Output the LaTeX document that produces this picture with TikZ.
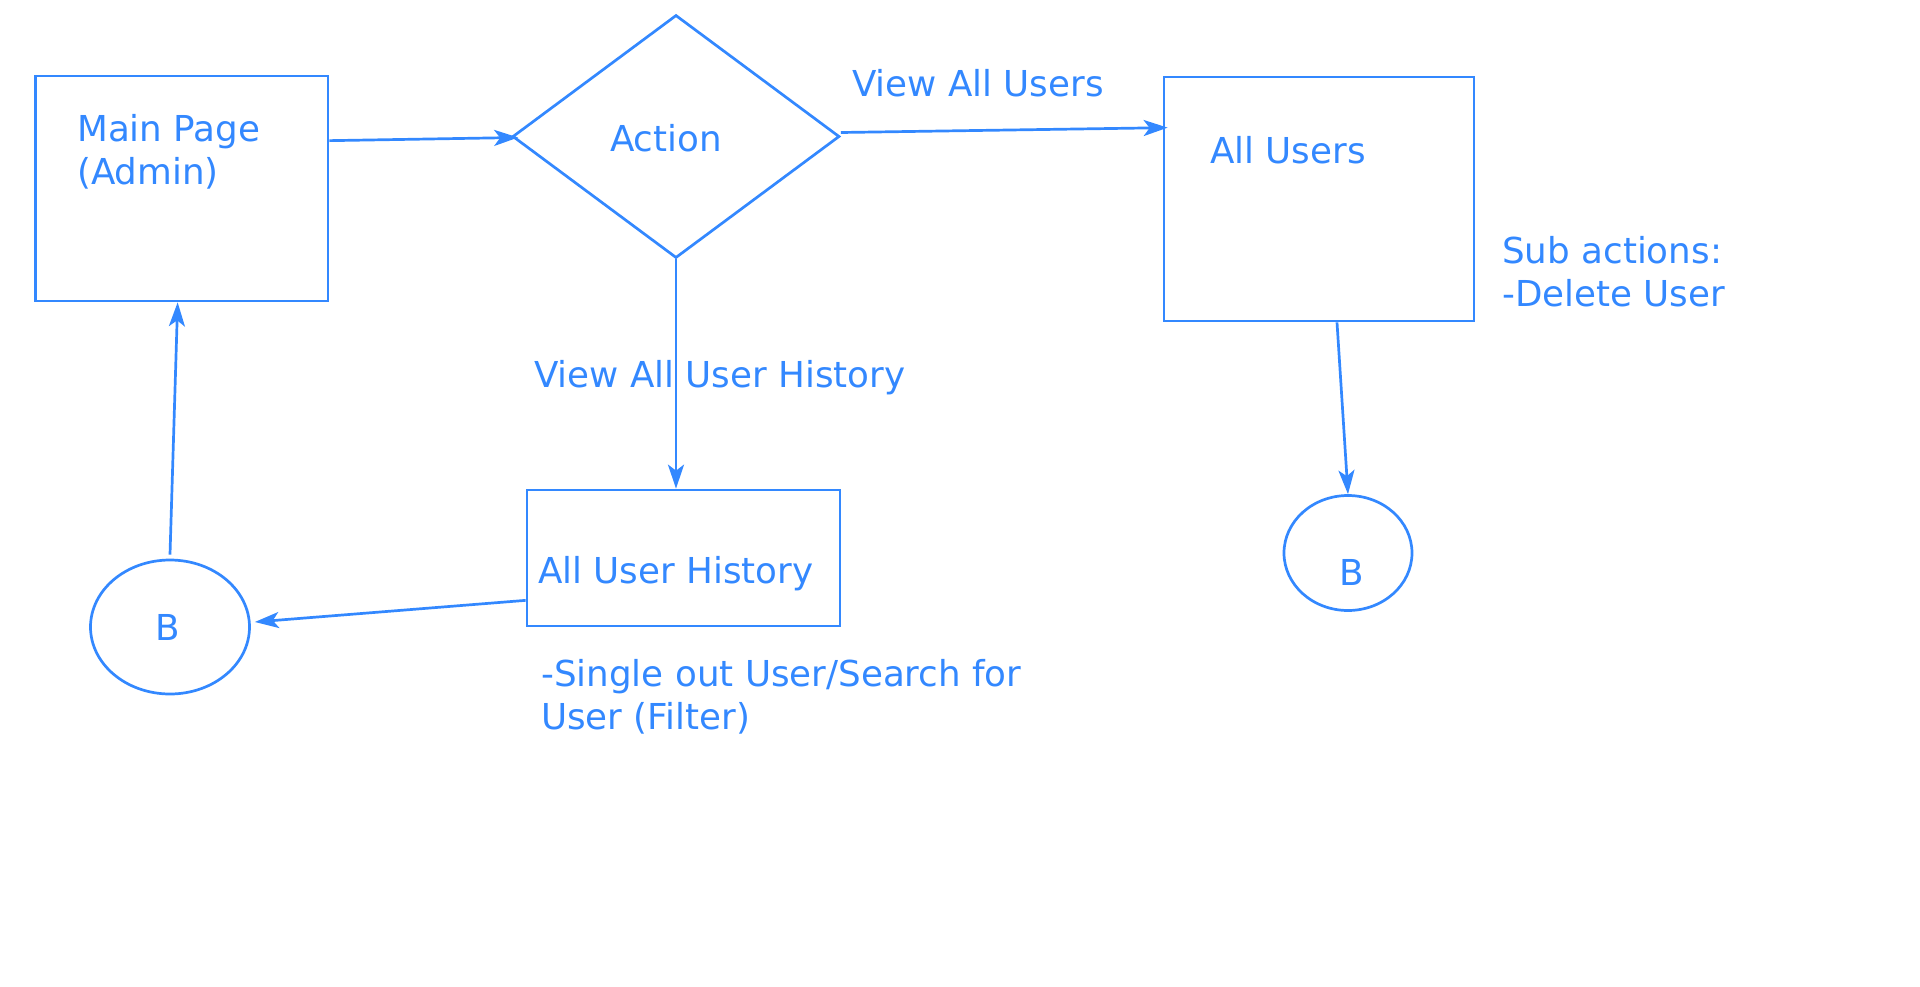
\documentclass[tikz,border=0pt]{standalone}
\usepackage{fontspec}
\setmainfont{DejaVu Sans}
\usetikzlibrary{shapes.geometric,arrows.meta,calc}
\definecolor{bl}{RGB}{51,136,255}
\begin{document}
\begin{tikzpicture}[x=1pt,y=-1pt,
  box/.style={draw=bl, rectangle, inner sep=0pt, line width=2.7pt},
  dia/.style={draw=bl, diamond, inner sep=0pt, line width=2.7pt},
  ell/.style={draw=bl, ellipse, inner sep=0pt, line width=2.7pt},
  lbl/.style={text=bl, font=\fontsize{35.7}{43}\selectfont, inner sep=0pt, anchor=base west, align=left},
  ctr/.style={text=bl, font=\fontsize{35.7}{43}\selectfont, inner sep=0pt, anchor=center},
  conn/.style={draw=bl, line width=2.7pt, -{Stealth[length=24pt,width=16pt,inset=6pt]}}]
\useasboundingbox (0,0) rectangle (1920,986);
% shapes
\node[box, minimum width=292.5pt, minimum height=225pt] (main) at (181.75,188.5) {};
\node[dia, minimum width=327pt, minimum height=243pt] (action) at (676,136.5) {};
\node[box, minimum width=310pt, minimum height=244pt] (users) at (1319,199) {};
\node[box, minimum width=313pt, minimum height=136pt] (hist) at (683.5,558) {};
\node[ell, minimum width=159pt, minimum height=134pt] (bL) at (170,627) {};
\node[ell, minimum width=128pt, minimum height=115pt] (bR) at (1348,553) {};
% texts
\node[lbl] (tmain) at (77,184) {Main Page\\(Admin)};
\node[ctr] (taction) at (666,138) {Action};
\node[lbl] (tvau) at (852,96) {View All Users};
\node[lbl] (tusers) at (1210,163) {All Users};
\node[lbl] (tsub) at (1502,306) {Sub actions:\\-Delete User};
\node[lbl] (tvauh) at (534,387) {View All User History};
\node[lbl] (thist) at (538,583) {All User History};
\node[lbl] (tsingle) at (541,729) {-Single out User/Search for\\User (Filter)};
\node[ctr] (tbL) at (168,627) {B};
\node[ctr] (tbR) at (1352,572) {B};
% connectors
\draw[conn] ($(main.north east)+(0,66)$) -- ($(action.west)+(7,1)$);
\draw[conn] ($(action.east)+(0,-4)$) -- ($(users.north west)+(5,52)$);
\draw[conn] (action.south) -- (action.south |- hist.north);
\draw[conn] ($(users.south)+(18,0)$) -- (bR.north);
\draw[conn] ($(hist.south west)+(0,-27)$) -- ($(bL.east)+(4,-5)$);
\draw[conn] ($(bL.north)+(0,-4)$) -- ($(main.south west)+(143.5,0)$);
\end{tikzpicture}
\end{document}
